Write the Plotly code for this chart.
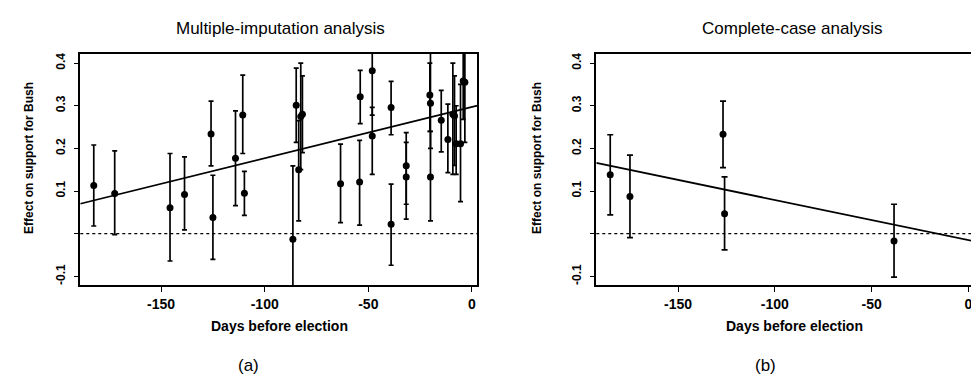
import plotly.graph_objects as go

# ---------------- data ----------------
# (a) Multiple-imputation analysis
mi_days = [-182.5, -172.4, -145.7, -138.7, -125.9, -125.0, -114.1, -110.6, -109.8,
           -86.4, -84.8, -83.6, -82.6, -81.8, -63.4, -54.2, -53.9, -48.1, -48.1,
           -39.0, -39.0, -31.7, -31.7, -20.3, -20.0, -20.0, -14.8, -11.6, -9.2,
           -8.4, -7.6, -5.5, -4.2, -3.4]
mi_est = [0.113, 0.094, 0.061, 0.092, 0.234, 0.038, 0.177, 0.278, 0.095,
          -0.013, 0.301, 0.150, 0.275, 0.280, 0.117, 0.121, 0.321, 0.382, 0.229,
          0.296, 0.022, 0.159, 0.133, 0.325, 0.306, 0.133, 0.266, 0.221, 0.280,
          0.276, 0.211, 0.211, 0.358, 0.355]
mi_lo = [0.018, -0.002, -0.064, 0.009, 0.159, -0.060, 0.066, 0.188, 0.043,
         -0.200, 0.214, 0.030, 0.150, 0.190, 0.026, 0.020, 0.258, 0.278, 0.139,
         0.232, -0.074, 0.069, 0.034, 0.240, 0.200, 0.030, 0.192, 0.143, 0.139,
         0.160, 0.139, 0.075, 0.268, 0.214]
mi_hi = [0.208, 0.194, 0.188, 0.180, 0.311, 0.137, 0.288, 0.372, 0.146,
         0.159, 0.388, 0.265, 0.400, 0.370, 0.210, 0.219, 0.383, 0.460, 0.296,
         0.357, 0.116, 0.237, 0.214, 0.400, 0.450, 0.240, 0.336, 0.304, 0.400,
         0.370, 0.300, 0.350, 0.460, 0.470]
mi_fit = {"intercept": 0.297, "slope": 0.0012}

# (b) Complete-case analysis
cc_days = [-185.1, -174.9, -126.8, -126.0, -38.4]
cc_est = [0.138, 0.087, 0.233, 0.047, -0.017]
cc_lo = [0.044, -0.009, 0.155, -0.038, -0.102]
cc_hi = [0.232, 0.184, 0.311, 0.133, 0.069]
cc_fit = {"intercept": -0.015, "slope": -0.00094}

x_tickvals = [-150, -100, -50, 0]
x_ticktext = ["-150", "-100", "-50", "0"]
y_tickvals = [-0.1, 0.0, 0.1, 0.2, 0.3, 0.4]
y_ticktext = ["-0.1", "", "0.1", "0.2", "0.3", "0.4"]

titles = ["Multiple-imputation analysis", "Complete-case analysis"]
xlabel = "Days before election"
ylabel = "Effect on support for Bush"
panel_tags = ["(a)", "(b)"]

# ---------------- layout geometry (pixels in a 979x381 page) ----------------
W, H = 979, 381
def px(x):
    return x / W
def py(y):
    return 1 - y / H

x_ranges = [[-189.0, 2.6], [-192.3, 5.0]]
y_range = [-0.121, 0.422]

fig = go.Figure()

def add_panel(days, est, lo, hi, fit, xa, ya, xr, capw):
    fig.add_trace(go.Scatter(
        x=days, y=est, mode="markers",
        marker=dict(color="black", size=7, symbol="circle"),
        error_y=dict(type="data", symmetric=False,
                     array=[h - e for h, e in zip(hi, est)],
                     arrayminus=[e - l for e, l in zip(est, lo)],
                     color="black", thickness=1.7, width=capw),
        xaxis=xa, yaxis=ya, showlegend=False, cliponaxis=True))
    fx = [xr[0], xr[1]]
    fy = [fit["intercept"] + fit["slope"] * v for v in fx]
    fig.add_trace(go.Scatter(x=fx, y=fy, mode="lines",
                             line=dict(color="black", width=1.8),
                             xaxis=xa, yaxis=ya, showlegend=False))

add_panel(mi_days, mi_est, mi_lo, mi_hi, mi_fit, "x", "y", x_ranges[0], 2.5)
add_panel(cc_days, cc_est, cc_lo, cc_hi, cc_fit, "x2", "y2", x_ranges[1], 3)

fam = "Liberation Sans, Arial, sans-serif"
axis_font = dict(family=fam, size=14, color="black", weight="bold")
yaxis_font = dict(family=fam, size=12, color="black", weight="bold")

common_x = dict(showline=True, linecolor="black", linewidth=1.6, mirror=True,
                ticks="outside", ticklen=5, tickwidth=1.2, tickcolor="black",
                showgrid=False, zeroline=False, tickvals=x_tickvals, ticktext=x_ticktext,
                tickfont=axis_font, ticklabelstandoff=0, ticklabeloverflow="allow")
common_y = dict(showline=True, linecolor="black", linewidth=1.6, mirror=True,
                ticks="outside", ticklen=5, tickwidth=1.2, tickcolor="black",
                showgrid=False, zeroline=False, tickvals=y_tickvals, ticktext=y_ticktext,
                tickfont=yaxis_font, tickangle=-90, range=y_range, ticklabelstandoff=4)

dom_y = [py(277.3), py(45.7)]
fig.update_layout(
    width=W, height=H,
    margin=dict(l=0, r=0, t=0, b=0, autoexpand=False),
    paper_bgcolor="white", plot_bgcolor="white",
    xaxis=dict(domain=[px(72.3), px(469.3)], range=x_ranges[0], anchor="y", **common_x),
    yaxis=dict(domain=dom_y, anchor="x", **common_y),
    xaxis2=dict(domain=[px(588.3), px(970.0)], range=x_ranges[1], anchor="y2", **common_x),
    yaxis2=dict(domain=dom_y, anchor="x2", **common_y),
)

# dotted zero lines
for xr_, yr_ in (("x domain", "y"), ("x2 domain", "y2")):
    fig.add_shape(type="line", xref=xr_, yref=yr_, x0=0, x1=1, y0=0, y1=0,
                  line=dict(color="black", width=1.3, dash="dot"))

ann = []
for cx, t in zip([272, 784], titles):
    ann.append(dict(x=px(cx), y=py(20), text=t, showarrow=False, xref="paper", yref="paper",
                    xanchor="center", yanchor="middle", font=dict(family=fam, size=17, color="black")))
for cx in [271, 786]:
    ann.append(dict(x=px(cx), y=py(318), text=xlabel, showarrow=False, xref="paper", yref="paper",
                    xanchor="center", yanchor="middle",
                    font=dict(family=fam, size=14, color="black", weight="bold")))
for cx in [21, 529]:
    ann.append(dict(x=px(cx), y=py(150), text=ylabel, showarrow=False, xref="paper", yref="paper",
                    xanchor="center", yanchor="middle", textangle=-90,
                    font=dict(family=fam, size=12, color="black", weight="bold")))
for cx, t in zip([240, 757], panel_tags):
    ann.append(dict(x=px(cx), y=py(357), text=t, showarrow=False, xref="paper", yref="paper",
                    xanchor="center", yanchor="middle", font=dict(family=fam, size=17, color="black")))
fig.update_layout(annotations=ann)

fig.write_html("out.html")
